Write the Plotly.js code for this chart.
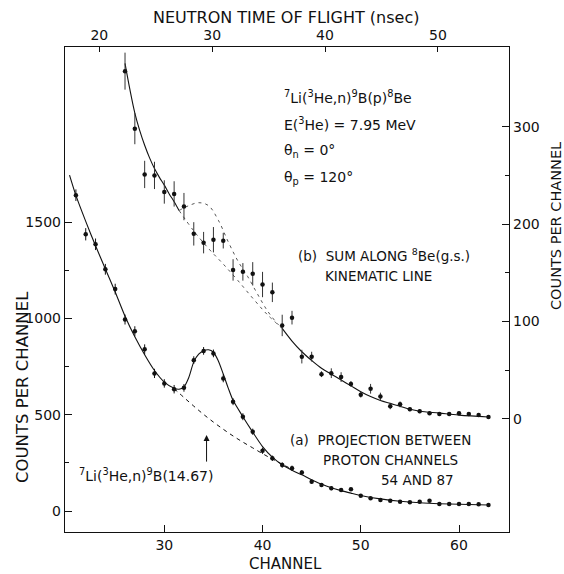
<!DOCTYPE html>
<html>
<head>
<meta charset="utf-8">
<script src="https://cdn.plot.ly/plotly-3.0.1.min.js"></script>
<style>html,body{margin:0;padding:0;background:#fff}#chart{width:564px;height:574px}</style>
</head>
<body>
<div id="chart"></div>
<script>
// ---- (a) projection between proton channels 54 and 87 (left axis) ----
const aChannels = [21,22,23,24,25,26,27,28,29,30,31,32,33,34,35,36,37,38,39,40,41,42,43,44,45,46,47,48,49,50,51,52,53,54,55,56,57,58,59,60,61,62,63];
const aCounts   = [1641,1438,1386,1256,1153,995,934,840,715,663,633,640,784,832,819,689,568,490,412,313,274,239,222,200,152,135,118,109,113,80,66,57,54,48,45,48,54,36,36,36,36,35,31];
const aErrors   = [30,32,30,28,28,26,26,26,24,22,22,20,20,20,20,20,18,18,16,16,14,14,14,12,10,10,10,8,8,6,6,6,6,6,6,6,6,6,6,6,6,6,6];

const aFitCh    = [20.35,21,22,23,24,25,26,27,28,29,30,31,31.5,32,32.5,33,33.5,34,34.5,35,35.5,36,36.5,37,38,39,40,41,42,43,44,45,46,47,48,49,50,52,54,56,58,60,63];
const aFitCounts= [1745,1640,1505,1378,1258,1138,1012,905,812,730,670,638,633,645,695,775,815,833,838,825,780,712,640,575,490,410,335,280,240,212,188,163,140,121,106,93,81,63,51,43,38,35,31];

const aBgCh     = [31,32,33,34,35,36,37,38,39,40,41,42,43];
const aBgCounts = [636,590,545,502,462,425,390,358,328,298,270,243,218];

// ---- (b) sum along 8Be(g.s.) kinematic line (right axis) ----
const bChannels = [26,27,28,29,30,31,32,33,34,35,36,37,38,39,40,41,42,43,44,45,46,47,48,49,50,51,52,53,54,55,56,57,58,59,60,61,62,63];
const bCounts   = [357,298,251,250,233,231,218,190,181,184,183,153,151,149,138,130,96,104,64,64,46,47,43,36,25,31,23,13,15,10,8,6,5,5,6,5,4,2];
const bErrors   = [19,16,14,14,12,13,14,12,11,13,8,11,9,12,13,10,11,7,7,5,3,5,5,3,3,5,4,3,3,2,2,2,2,2,2,2,2,2];

const bFit1Ch     = [26,26.5,27,27.5,28,28.5,29,29.5,30,30.5,31,31.5];
const bFit1Counts = [365,338,314,296,281,268,257,248,240,231,223,214];
const bBaseCh     = [31.5,33,34.5,36,37.5,39,40.5,42];
const bBaseCounts = [214,193,175,159,142,124,107,93];
const bBumpCh     = [31.5,32.5,33.5,34.5,35.5,36.5,37.5,38.5,39.5,40.5,41.5,42];
const bBumpCounts = [214,219,222,219,204,182,162,146,128,111,98,93];
const bFit2Ch     = [42,43,44,45,46,47,48,49,50,51,52,53,54,55,56,58,60,63];
const bFit2Counts = [93,80,69,60,52,46,40,34,28,23,19,16,13,10,8,6,4,2];

// ---- axes ticks ----
const chTicks   = [30,40,50,60];
const tofTicks  = [20,30,40,50];
const leftTicks = [0,500,1000,1500];
const leftMinor = [250,750,1250];
const rightTicks= [0,100,200,300];
const rightMinor= [50,150,250];

// arrow marking 7Li(3He,n)9B(14.67)
const arrowCh = 34.3, arrowTip = 395, arrowTail = 249;

const FONT = 'DejaVu Sans';
const INK = '#111';

// pixel -> paper helpers for text placement
const L = 65, R = 509, T = 47, B = 532;
const px = v => (v - L) / (R - L);
const py = v => (B - v) / (B - T);

const lineStyle = {color: INK, width: 1.1};
const traces = [
  {x: aFitCh, y: aFitCounts, mode: 'lines', line: Object.assign({shape: 'spline', smoothing: 0.8}, lineStyle), xaxis: 'x', yaxis: 'y', hoverinfo: 'skip'},
  {x: aBgCh, y: aBgCounts, mode: 'lines', line: {color: INK, width: 1, dash: '4px,4px', shape: 'spline'}, xaxis: 'x', yaxis: 'y'},
  {x: aChannels, y: aCounts, mode: 'markers', marker: {color: INK, size: 4.5},
   error_y: {type: 'data', array: aErrors, visible: true, color: INK, thickness: 1, width: 0}, xaxis: 'x', yaxis: 'y'},
  {x: bFit1Ch, y: bFit1Counts, mode: 'lines', line: Object.assign({shape: 'spline'}, lineStyle), xaxis: 'x', yaxis: 'y2'},
  {x: bBaseCh, y: bBaseCounts, mode: 'lines', line: {color: '#444', width: 0.9, dash: '3px,4px', shape: 'spline'}, xaxis: 'x', yaxis: 'y2'},
  {x: bBumpCh, y: bBumpCounts, mode: 'lines', line: {color: '#444', width: 0.9, dash: '3px,4px', shape: 'spline'}, xaxis: 'x', yaxis: 'y2'},
  {x: bFit2Ch, y: bFit2Counts, mode: 'lines', line: Object.assign({shape: 'spline'}, lineStyle), xaxis: 'x', yaxis: 'y2'},
  {x: bChannels, y: bCounts, mode: 'markers', marker: {color: INK, size: 4.5},
   error_y: {type: 'data', array: bErrors, visible: true, color: '#333', thickness: 1, width: 0}, xaxis: 'x', yaxis: 'y2'},
  {x: [], y: [], mode: 'markers', xaxis: 'x2', yaxis: 'y'}
];

const tickFont = {family: FONT, size: 14, color: INK};
const baseAxis = {showgrid: false, zeroline: false, showline: true, linecolor: INK, linewidth: 1.2,
                  ticks: 'inside', tickcolor: INK, tickwidth: 1, tickfont: tickFont, tickmode: 'array'};

function ann(text, x, y, size, opts) {
  return Object.assign({text: text, xref: 'paper', yref: 'paper', x: px(x), y: py(y), showarrow: false,
    xanchor: 'left', yanchor: 'middle', font: {family: FONT, size: size, color: INK}}, opts || {});
}

const layout = {
  width: 564, height: 574,
  margin: {l: L, r: 564 - R, t: T, b: 574 - B, pad: 0},
  paper_bgcolor: '#fff', plot_bgcolor: '#fff',
  showlegend: false,
  xaxis: Object.assign({}, baseAxis, {range: [19.89, 65.09], tickvals: chTicks, ticklen: 7, mirror: true}),
  xaxis2: Object.assign({}, baseAxis, {overlaying: 'x', side: 'top', anchor: 'y', range: [16.96, 56.30], tickvals: tofTicks, ticklen: 5}),
  yaxis: Object.assign({}, baseAxis, {range: [-109, 2411], tickvals: leftTicks, ticklen: 7, mirror: true,
    minor: {tickmode: 'array', tickvals: leftMinor, ticks: 'inside', ticklen: 4, tickcolor: INK, tickwidth: 1}}),
  yaxis2: Object.assign({}, baseAxis, {overlaying: 'y', side: 'right', anchor: 'x', range: [-116, 381.8], tickvals: rightTicks, ticklen: 7,
    minor: {tickmode: 'array', tickvals: rightMinor, ticks: 'inside', ticklen: 4, tickcolor: INK, tickwidth: 1}}),
  annotations: [
    ann('NEUTRON TIME OF FLIGHT (nsec)', 286, 18, 16, {xanchor: 'center'}),
    ann('CHANNEL', 285, 563.5, 15, {xanchor: 'center'}),
    ann('COUNTS PER CHANNEL', 22, 387, 16.5, {xanchor: 'center', textangle: -90}),
    ann('COUNTS PER CHANNEL', 556, 226, 14.5, {xanchor: 'center', textangle: -90}),
    ann('<sup>7</sup>Li(<sup>3</sup>He,n)<sup>9</sup>B(p)<sup>8</sup>Be', 282, 97, 14),
    ann('E(<sup>3</sup>He) = 7.95 MeV', 282, 124, 14),
    ann('θ<sub>n</sub> = 0°', 282, 151, 14),
    ann('θ<sub>p</sub> = 120°', 282, 178, 14),
    ann('(b)  SUM ALONG <sup>8</sup>Be(g.s.)', 296, 255, 13.5),
    ann('KINEMATIC LINE', 323, 276, 13.5),
    ann('(a)  PROJECTION BETWEEN', 288, 440, 13.5),
    ann('PROTON CHANNELS', 320.7, 460, 13.5),
    ann('54 AND 87', 379, 480, 13.5),
    ann('<sup>7</sup>Li(<sup>3</sup>He,n)<sup>9</sup>B(14.67)', 76.7, 475, 14),
    {text: '', x: arrowCh, y: arrowTip, xref: 'x', yref: 'y', ax: arrowCh, ay: arrowTail, axref: 'x', ayref: 'y',
     showarrow: true, arrowhead: 2, arrowsize: 1.2, arrowwidth: 1, arrowcolor: INK}
  ]
};

Plotly.newPlot('chart', traces, layout, {staticPlot: true, displayModeBar: false});
</script>
</body>
</html>
